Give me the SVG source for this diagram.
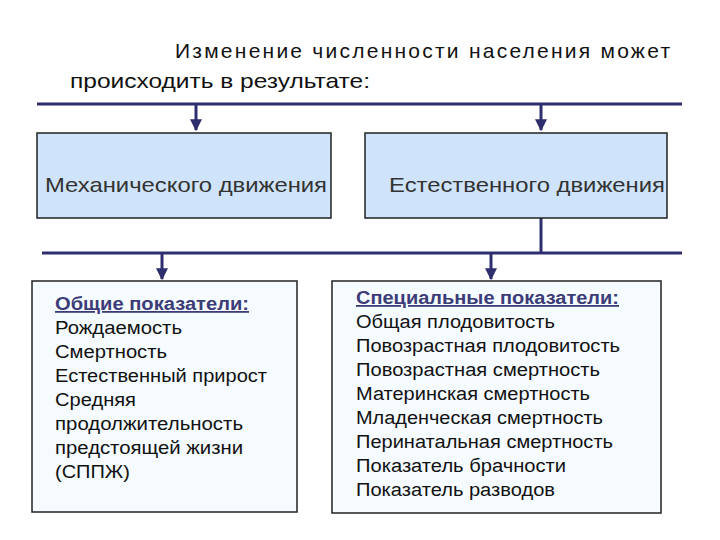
<svg xmlns="http://www.w3.org/2000/svg" width="720" height="540" viewBox="0 0 720 540">
<style>
text{font-family:"Liberation Sans",Arial,sans-serif;fill:#111}
.t{font-size:21px}
.b{font-size:21px;fill:#333}
.l{font-size:18px}
.h{font-size:18px;font-weight:bold;fill:#3c3c78;text-decoration:underline}
.box1{fill:#cfe4fa;stroke:#222;stroke-width:1.5}
.box2{fill:#f5fbff;stroke:#222;stroke-width:1.5}
.c{stroke:#2e2e6e;stroke-width:3;fill:none}
</style>
<defs><marker id="a" viewBox="0 0 10 10" refX="9" refY="5" markerWidth="4" markerHeight="4" orient="auto"><path d="M0,0L10,5L0,10z" fill="#2e2e6e"/></marker></defs>
<rect width="720" height="540" fill="#fff"/>
<g id="title">
<text class="t" x="175" y="58" textLength="495" lengthAdjust="spacing">Изменение  численности  населения  может</text>
<text class="t" x="70" y="88" textLength="300" lengthAdjust="spacingAndGlyphs">происходить в результате:</text>
</g>
<g id="connectors">
<path class="c" d="M37,104H682"/>
<path class="c" d="M196,104V130" marker-end="url(#a)"/>
<path class="c" d="M541,104V130" marker-end="url(#a)"/>
<path class="c" d="M541,218V253"/>
<path class="c" d="M42,253H682"/>
<path class="c" d="M162,253V279" marker-end="url(#a)"/>
<path class="c" d="M491,253V279" marker-end="url(#a)"/>
</g>
<g id="mech"><rect class="box1" x="37" y="133" width="294" height="85"/><text class="b" x="45" y="192" textLength="282" lengthAdjust="spacingAndGlyphs">Механического движения</text></g>
<g id="est"><rect class="box1" x="365" y="133" width="302" height="85"/><text class="b" x="389" y="192" textLength="276" lengthAdjust="spacingAndGlyphs">Естественного движения</text></g>
<g id="general"><rect class="box2" x="32" y="281" width="265" height="231"/>
<text class="h" x="55" y="310" textLength="194" lengthAdjust="spacingAndGlyphs">Общие показатели:</text>
<text class="l" x="55" y="334" textLength="127" lengthAdjust="spacingAndGlyphs">Рождаемость</text>
<text class="l" x="55" y="358" textLength="112" lengthAdjust="spacingAndGlyphs">Смертность</text>
<text class="l" x="55" y="382" textLength="212" lengthAdjust="spacingAndGlyphs">Естественный прирост</text>
<text class="l" x="55" y="406" textLength="81" lengthAdjust="spacingAndGlyphs">Средняя</text>
<text class="l" x="55" y="430" textLength="188" lengthAdjust="spacingAndGlyphs">продолжительность</text>
<text class="l" x="55" y="454" textLength="188" lengthAdjust="spacingAndGlyphs">предстоящей жизни</text>
<text class="l" x="55" y="478" textLength="75" lengthAdjust="spacingAndGlyphs">(СППЖ)</text>
</g>
<g id="special"><rect class="box2" x="332" y="281" width="329" height="232"/>
<text class="h" x="356" y="304" textLength="263" lengthAdjust="spacingAndGlyphs">Специальные показатели:</text>
<text class="l" x="356" y="328" textLength="199" lengthAdjust="spacingAndGlyphs">Общая плодовитость</text>
<text class="l" x="356" y="352" textLength="264" lengthAdjust="spacingAndGlyphs">Повозрастная плодовитость</text>
<text class="l" x="356" y="376" textLength="244" lengthAdjust="spacingAndGlyphs">Повозрастная смертность</text>
<text class="l" x="356" y="400" textLength="234" lengthAdjust="spacingAndGlyphs">Материнская смертность</text>
<text class="l" x="356" y="424" textLength="247" lengthAdjust="spacingAndGlyphs">Младенческая смертность</text>
<text class="l" x="356" y="448" textLength="257" lengthAdjust="spacingAndGlyphs">Перинатальная смертность</text>
<text class="l" x="356" y="472" textLength="210" lengthAdjust="spacingAndGlyphs">Показатель брачности</text>
<text class="l" x="356" y="496" textLength="199" lengthAdjust="spacingAndGlyphs">Показатель разводов</text>
</g>
</svg>
